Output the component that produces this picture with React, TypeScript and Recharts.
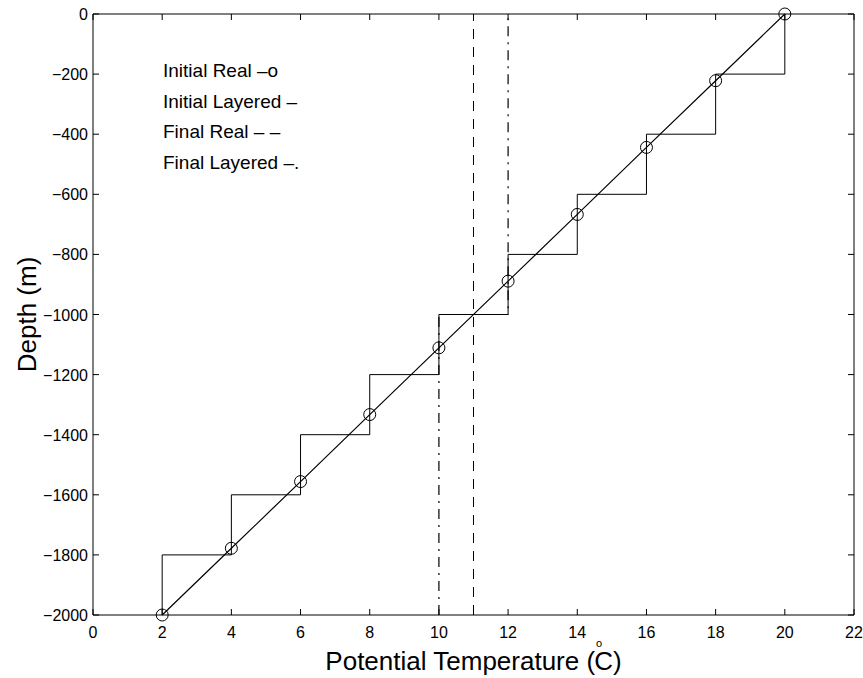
import { LineChart, Line, XAxis, YAxis, ReferenceLine } from 'recharts';

// initial real profile (circles)
const realTemp = [2, 4, 6, 8, 10, 12, 14, 16, 18, 20];
const realDepth = [-2000, -1778, -1556, -1333, -1111, -889, -667, -444, -222, 0];

// initial layered profile: one temperature per 200 m layer
const layerTemp = [2, 4, 6, 8, 10, 12, 14, 16, 18, 20];
const layerBottom = [-2000, -1800, -1600, -1400, -1200, -1000, -800, -600, -400, -200];
const layerTop = [-1800, -1600, -1400, -1200, -1000, -800, -600, -400, -200, 0];

// final real: well mixed
const finalRealTemp = [11, 11];
const finalRealDepth = [-2000, 0];

// final layered: two mixed layers
const finalLayerTemp = [10, 10, 12, 12];
const finalLayerDepth = [-2000, -1000, -1000, 0];

const xTicks = [0, 2, 4, 6, 8, 10, 12, 14, 16, 18, 20, 22];
const yTicks = [-2000, -1800, -1600, -1400, -1200, -1000, -800, -600, -400, -200, 0];

const legendLines = ['Initial Real \u2013o', 'Initial Layered \u2013', 'Final Real \u2013 \u2013', 'Final Layered \u2013.'];

const realPts = realTemp.map((t, i) => ({ temp: t, depth: realDepth[i] }));
const layerPts = layerTemp.flatMap((t, i) => [
  { temp: t, depth: layerBottom[i] },
  { temp: t, depth: layerTop[i] },
]);
const finalRealPts = finalRealTemp.map((t, i) => ({ temp: t, depth: finalRealDepth[i] }));
const finalLayerPts = finalLayerTemp.map((t, i) => ({ temp: t, depth: finalLayerDepth[i] }));

// chart covers the whole page (placed over the body margin)
const W = 863;
const H = 678;
const margin = { top: 14, right: 9, left: 0, bottom: 0 };
const yAxisW = 93;
const xAxisH = 63;
const plotW = W - margin.left - margin.right - yAxisW;
const plotH = H - margin.top - margin.bottom - xAxisH;
const font = '"Liberation Sans", Arial, sans-serif';
const fmt = (v: number) => (v < 0 ? '\u2212' + Math.abs(v) : String(v));

const XTick = ({ x, y, payload }: any) => (
  <g>
    <line x1={x} x2={x} y1={y} y2={y - 6} stroke="#000" />
    <line x1={x} x2={x} y1={y - plotH} y2={y - plotH + 6} stroke="#000" />
    <text x={x} y={y + 23} textAnchor="middle" fontSize={16} fontFamily={font} fill="#000">
      {payload.value}
    </text>
  </g>
);

const YTick = ({ x, y, payload }: any) => (
  <g>
    <line x1={x} x2={x + 6} y1={y} y2={y} stroke="#000" />
    <line x1={x + plotW} x2={x + plotW - 6} y1={y} y2={y} stroke="#000" />
    <text x={x - 5} y={y + 6} textAnchor="end" fontSize={16} fontFamily={font} fill="#000">
      {fmt(payload.value)}
    </text>
  </g>
);

const XLabel = ({ viewBox }: any) => {
  const cx = viewBox.x + viewBox.width / 2;
  return (
    <text x={cx} y={viewBox.y + 55} textAnchor="middle" fontSize={26} fontFamily={font} fill="#000">
      Potential Temperature (
      <tspan fontSize={11} dx={1} dy={-23}>o</tspan>
      <tspan dx={-8} dy={23}>C)</tspan>
    </text>
  );
};

const YLabel = ({ viewBox }: any) => {
  const cy = viewBox.y + viewBox.height / 2;
  return (
    <text
      x={27}
      y={cy}
      transform={`rotate(-90 27 ${cy})`}
      textAnchor="middle"
      dominantBaseline="central"
      fontSize={26}
      fontFamily={font}
      fill="#000"
    >
      Depth (m)
    </text>
  );
};

export default function App() {
  return (
    <div style={{ position: 'absolute', left: 0, top: 0, width: W, height: H, background: '#fff' }}>
      <LineChart width={W} height={H} margin={margin}>
        <XAxis
          dataKey="temp"
          type="number"
          domain={[0, 22]}
          ticks={xTicks}
          height={xAxisH}
          tickSize={0}
          tickMargin={0}
          tick={<XTick />}
          axisLine={{ stroke: '#000' }}
          label={<XLabel />}
        />
        <YAxis
          dataKey="depth"
          type="number"
          domain={[-2000, 0]}
          ticks={yTicks}
          width={yAxisW}
          tickSize={0}
          tickMargin={0}
          tick={<YTick />}
          axisLine={{ stroke: '#000' }}
          label={<YLabel />}
        />
        <ReferenceLine y={0} stroke="#000" />
        <ReferenceLine x={22} stroke="#000" />
        <Line
          data={layerPts}
          dataKey="depth"
          type="linear"
          stroke="#000"
          strokeWidth={1}
          dot={false}
          isAnimationActive={false}
          name="Initial Layered"
        />
        <Line
          data={finalRealPts}
          dataKey="depth"
          type="linear"
          stroke="#000"
          strokeWidth={1}
          strokeDasharray="10 8"
          dot={false}
          isAnimationActive={false}
          name="Final Real"
        />
        <Line
          data={finalLayerPts}
          dataKey="depth"
          type="linear"
          stroke="#000"
          strokeWidth={1.2}
          strokeDasharray="10 6 2 6"
          dot={false}
          isAnimationActive={false}
          name="Final Layered"
        />
        <Line
          data={realPts}
          dataKey="depth"
          type="linear"
          stroke="#000"
          strokeWidth={1.2}
          dot={{ r: 6, fill: 'none', stroke: '#000', strokeWidth: 1 }}
          isAnimationActive={false}
          name="Initial Real"
        />
      </LineChart>
      <div
        style={{
          position: 'absolute',
          left: 163,
          top: 56,
          fontFamily: font,
          fontSize: 19,
          lineHeight: '30.5px',
          color: '#000',
          whiteSpace: 'pre',
        }}
      >
        {legendLines.map((s) => (
          <div key={s}>{s}</div>
        ))}
      </div>
    </div>
  );
}
